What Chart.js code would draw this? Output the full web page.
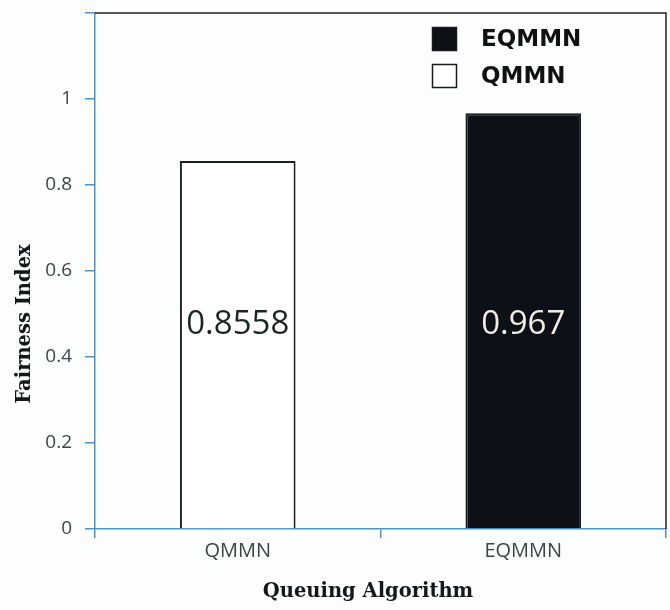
<!DOCTYPE html>
<html>
<head>
<meta charset="utf-8">
<script src="https://cdn.jsdelivr.net/npm/chart.js@4/dist/chart.umd.min.js"></script>
<style>
  html, body { margin: 0; padding: 0; background: #fcfdfd; }
  #wrap { width: 670px; height: 610px; position: relative; }
</style>
</head>
<body>
<div id="wrap"><canvas id="c" width="670" height="610"></canvas></div>
<script>
// Fairness index per queuing algorithm
const categories = ['QMMN', 'EQMMN'];
const fairness = [0.8558, 0.967];
const barFills = ['#ffffff', '#0d1117'];
const valueColors = ['#1c2626', '#f2ece6'];
const legendItems = ['EQMMN', 'QMMN'];
const legendFills = ['#0d1117', '#ffffff'];
const yTickMax = 1.2;
const yTickStep = 0.2;

const axisBlue = '#4f93c6';
const tickText = '#384646';

// Value printed inside each bar, at a common height
const valueLabels = {
  id: 'valueLabels',
  afterDatasetsDraw(chart) {
    const ctx = chart.ctx;
    const meta = chart.getDatasetMeta(0);
    ctx.save();
    ctx.font = '33px "Open Sans"';
    ctx.textAlign = 'center';
    ctx.textBaseline = 'middle';
    meta.data.forEach((bar, i) => {
      ctx.fillStyle = valueColors[i];
      ctx.fillText(String(chart.data.datasets[0].data[i]), bar.x, 325);
    });
    ctx.restore();
  }
};

// Black frame on the top and right of the plot, legend box, axis titles
const frameAndLegend = {
  id: 'frameAndLegend',
  afterDraw(chart) {
    const ctx = chart.ctx;
    const a = chart.chartArea;
    ctx.save();
    ctx.strokeStyle = '#1e2222';
    ctx.lineWidth = 1.5;
    ctx.beginPath();
    ctx.moveTo(a.left, a.top);
    ctx.lineTo(a.right, a.top);
    ctx.lineTo(a.right, a.bottom);
    ctx.stroke();

    // legend
    ctx.font = 'bold 23px "DejaVu Sans"';
    ctx.textAlign = 'left';
    ctx.textBaseline = 'middle';
    legendItems.forEach((name, i) => {
      const y = 39 + i * 37;
      ctx.fillStyle = legendFills[i];
      ctx.fillRect(432.5, y - 11.5, 24, 23);
      ctx.strokeStyle = '#1a1a1a';
      ctx.lineWidth = 1.5;
      ctx.strokeRect(432.5, y - 11.5, 24, 23);
      ctx.fillStyle = '#111111';
      ctx.fillText(name, 481, y + 1);
    });

    // axis titles
    ctx.fillStyle = '#141818';
    ctx.font = 'bold 19.5px "DejaVu Serif"';
    ctx.textAlign = 'center';
    ctx.textBaseline = 'middle';
    ctx.fillText('Queuing Algorithm', 368, 592);
    ctx.translate(25, 324);
    ctx.rotate(-Math.PI / 2);
    ctx.fillText('Fairness Index', 0, 0);
    ctx.restore();
  }
};

new Chart(document.getElementById('c'), {
  type: 'bar',
  data: {
    labels: categories,
    datasets: [{
      label: 'Fairness Index',
      data: fairness,
      backgroundColor: barFills,
      borderColor: '#1a2020',
      borderWidth: 2,
      borderSkipped: 'bottom',
      categoryPercentage: 1.0,
      barPercentage: 0.405
    }]
  },
  options: {
    responsive: false,
    animation: false,
    layout: { padding: { top: 13, right: 4, left: 0, bottom: 0 } },
    plugins: {
      legend: { display: false },
      tooltip: { enabled: false }
    },
    scales: {
      x: {
        afterFit(scale) {
          scale.height = 81;
          scale.paddingLeft = 0;
          scale.paddingRight = 0;
        },
        grid: {
          drawOnChartArea: false,
          drawTicks: true,
          tickLength: 9,
          color: axisBlue,
          lineWidth: 1.5
        },
        border: { color: axisBlue, width: 1.5 },
        ticks: {
          color: tickText,
          font: { family: 'Open Sans', size: 20 },
          padding: 1
        }
      },
      y: {
        min: 0,
        max: yTickMax,
        afterFit(scale) {
          scale.width = 95;
          scale.paddingTop = 0;
          scale.paddingBottom = 0;
        },
        grid: {
          drawOnChartArea: false,
          drawTicks: true,
          tickLength: 10,
          color: axisBlue,
          lineWidth: 1.5
        },
        border: { color: axisBlue, width: 1.5 },
        ticks: {
          stepSize: yTickStep,
          color: tickText,
          padding: 13,
          font: { family: 'Open Sans', size: 19 },
          callback: (v) => (v > 1.0001 ? '' : String(Number(v.toFixed(1))))
        }
      }
    }
  },
  plugins: [valueLabels, frameAndLegend]
});
</script>
</body>
</html>
